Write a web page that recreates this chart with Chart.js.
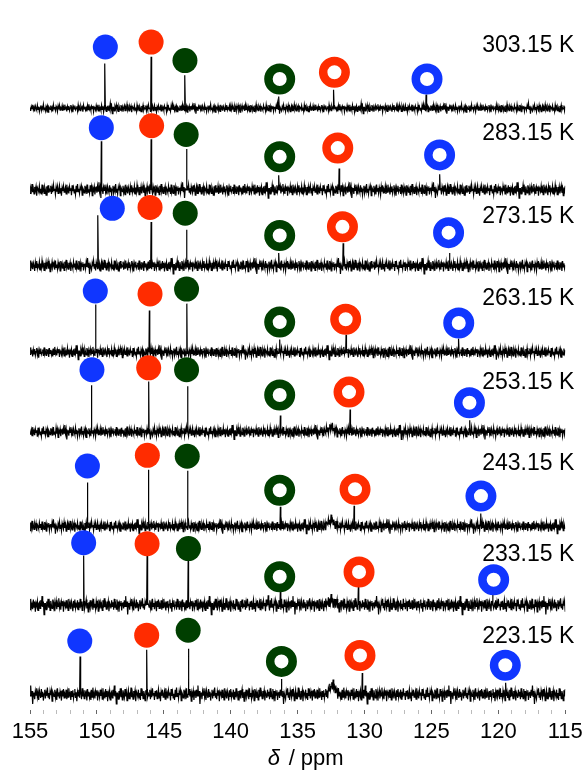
<!DOCTYPE html>
<html>
<head>
<meta charset="utf-8">
<script src="https://cdn.jsdelivr.net/npm/chart.js@4.4.1/dist/chart.umd.min.js"></script>
<style>
  html, body { margin: 0; padding: 0; background: #fff; }
  #wrap { width: 585px; height: 772px; position: relative; }
</style>
</head>
<body>
<div id="wrap"><canvas id="nmr"></canvas></div>
<script>
// temperaturas, de cima para baixo
const temps = ['303.15 K', '283.15 K', '273.15 K', '263.15 K', '253.15 K', '243.15 K', '233.15 K', '223.15 K'];
// deslocamento vertical de cada espectro
const baselines = [619, 535, 457, 368, 286, 189, 108, 16];
const noiseAmp = [4, 6, 6, 5.5, 5.5, 5.5, 7, 7];
const labelLift = [64, 58, 50, 55, 51, 64, 52, 59];

// picos: [ppm, altura, meia-largura]
const peaks303 = [[149.40, 46, 0.03], [145.95, 53, 0.03], [143.42, 34, 0.03], [136.40, 12, 0.03], [132.30, 19, 0.03], [125.40, 14, 0.03]];
const peaks283 = [[149.67, 50, 0.03], [145.95, 52, 0.03], [143.30, 42, 0.03], [136.40, 15, 0.03], [131.90, 22, 0.03], [124.37, 16, 0.03]];
const peaks273 = [[149.92, 52, 0.03], [145.95, 45, 0.03], [143.30, 37, 0.03], [136.40, 13, 0.03], [131.60, 23, 0.03], [123.65, 13, 0.03]];
const peaks263 = [[150.10, 49, 0.03], [146.08, 43, 0.03], [143.28, 50, 0.03], [136.34, 13, 0.03], [131.38, 18, 0.03], [122.96, 14, 0.03]];
const peaks253 = [[150.41, 48, 0.03], [146.13, 52, 0.03], [143.23, 47, 0.03], [136.29, 17, 0.03], [131.08, 23, 0.03], [122.14, 12, 0.03]];
const peaks243 = [[150.71, 45, 0.03], [146.15, 58, 0.03], [143.23, 57, 0.03], [136.29, 20, 0.03], [130.78, 21, 0.03], [121.30, 13, 0.03]];
const peaks233 = [[150.99, 51, 0.03], [146.25, 51, 0.03], [143.18, 47, 0.03], [137.20, 10, 0.03], [136.29, 16, 0.03], [130.46, 20, 0.03], [120.43, 12, 0.03]];
const peaks223 = [[151.26, 39, 0.03], [146.28, 46, 0.03], [143.16, 47, 0.03], [136.21, 16, 0.03], [130.17, 22, 0.03], [119.44, 12, 0.03]];
const peakSets = [peaks303, peaks283, peaks273, peaks263, peaks253, peaks243, peaks233, peaks223];

// sinais largos (~132.5 ppm): [ppm, altura, meia-largura] por espectro
const humps = [[], [], [], [], [[132.5, 5, 0.5]], [[132.5, 7, 0.5]], [[132.5, 5, 0.5]], [[132.4, 10, 0.5]]];

// marcadores: [ppm, altura acima da linha de base]
const blueFilled  = [[149.37, 63], [149.67, 64], [148.85, 59], [150.12, 63], [150.37, 64], [150.71, 62], [150.99, 64], [151.28, 55]];
const redFilled   = [[145.95, 68], [145.91, 66], [146.03, 60], [146.03, 60], [146.13, 66], [146.23, 73], [146.25, 63], [146.28, 61]];
const greenFilled = [[143.42, 49], [143.33, 57], [143.40, 54], [143.30, 65], [143.30, 64], [143.25, 72], [143.16, 58], [143.18, 66]];
const greenRing   = [[136.34, 30], [136.34, 34], [136.34, 31], [136.34, 31], [136.34, 38], [136.34, 37], [136.34, 29], [136.21, 34]];
const redRing     = [[132.25, 37], [132.00, 43], [131.65, 40], [131.41, 34], [131.16, 41], [130.71, 38], [130.41, 34], [130.34, 40]];
const blueRing    = [[125.33, 30], [124.39, 36], [123.72, 34], [122.96, 30], [122.16, 30], [121.30, 31], [120.35, 26], [119.48, 30]];

// ruído da linha de base (valores normalizados)
const noisePattern = [
  0.2, -0.7, 0.5, -0.1, 0.9, -0.4, 0.3, -0.8, 0.6, 0.0,
  -0.5, 0.8, -0.3, 0.4, -0.9, 0.1, 0.7, -0.6, 0.3, -0.2,
  1.0, -0.4, 0.2, -0.7, 0.5, -0.1, 0.6, -1.0, 0.4, 0.1,
  -0.3, 0.7, -0.5, 0.2, -0.8, 0.9, -0.2, 0.3, -0.6, 0.5,
  0.0, -0.9, 0.6, -0.3, 0.8, -0.5, 0.1, -0.2, 0.7, -0.7,
  0.4, -0.4, 0.9, -0.1, 0.2, -0.8, 0.5, -0.3, 0.6, -0.6,
  0.1, 0.8, -0.5, 0.3, -1.0, 0.4, -0.2, 0.7, -0.4, 0.0,
  0.5, -0.7, 0.9, -0.3, 0.2, -0.6, 0.6, -0.1, 0.3, -0.9,
  0.8, -0.2, 0.4, -0.5, 0.1, -0.8, 0.7, -0.4, 1.0, -0.3,
  0.2, -0.6, 0.5, -0.1, 0.6, -0.9, 0.3, 0.0, -0.5, 0.7,
  -0.2, 0.4, -0.7, 0.9, -0.4, 0.1, -0.6, 0.8, -0.3, 0.5,
  -1.0, 0.3, -0.1, 0.6, -0.8, 0.2, 0.4, -0.5, 0.7, -0.2,
  1.3, -0.3, 0.5, -1.4, 0.2
];

const BLUE = '#1036ff';
const RED = '#ff2c00';
const GREEN = '#003f00';
const FONT = '"Liberation Sans", Arial, sans-serif';

function humpAt(i, ppm) {
  let add = 0;
  humps[i].forEach(([c, h, w]) => {
    const d = Math.abs(ppm - c);
    if (d < w) add += h * (1 - d / w);
  });
  return add;
}

function buildSpectrum(i) {
  const base = baselines[i], amp = noiseAmp[i], pk = peakSets[i];
  const pts = [];
  for (let k = 0; k <= 800; k++) {
    const ppm = 155 - k * 0.05;
    if (pk.some(p => Math.abs(ppm - p[0]) <= p[2])) continue;
    const n = noisePattern[(k + i * 17) % noisePattern.length];
    pts.push({ x: ppm, y: base + amp * n + humpAt(i, ppm) });
  }
  pk.forEach(([c, h, w]) => {
    pts.push({ x: c + w, y: base }, { x: c, y: base + h }, { x: c - w, y: base });
  });
  return pts.sort((a, b) => b.x - a.x);
}

function markerData(list) {
  return list.map(([ppm, lift], i) => ({ x: ppm, y: baselines[i] + lift }));
}

function filledSet(list, color) {
  return {
    type: 'scatter', data: markerData(list), order: 0,
    pointStyle: 'circle', pointRadius: 12.5, pointBorderWidth: 0,
    pointBackgroundColor: color, pointBorderColor: color
  };
}

function ringSet(list, color) {
  return {
    type: 'scatter', data: markerData(list), order: 0,
    pointStyle: 'circle', pointRadius: 11.25, pointBorderWidth: 8.5,
    pointBackgroundColor: '#fff', pointBorderColor: color
  };
}

const spectra = temps.map((t, i) => ({
  type: 'line', label: t, data: buildSpectrum(i), order: 1,
  borderColor: '#000', borderWidth: 1.2, pointRadius: 0, tension: 0, fill: false
}));

// textos: temperaturas e título do eixo
const textPlugin = {
  id: 'nmrText',
  afterDraw(chart) {
    const { ctx, chartArea, scales: { y } } = chart;
    ctx.save();
    ctx.fillStyle = '#000';
    ctx.font = '23px ' + FONT;
    ctx.textAlign = 'right';
    ctx.textBaseline = 'middle';
    temps.forEach((t, i) => {
      ctx.fillText(t, chartArea.right + 9, y.getPixelForValue(baselines[i] + labelLift[i]));
    });
    const left = (chartArea.left + chartArea.right) / 2 - 30;
    ctx.textAlign = 'left';
    ctx.textBaseline = 'alphabetic';
    ctx.font = 'italic 22px ' + FONT;
    ctx.fillText('δ', left, 765);
    ctx.font = '22px ' + FONT;
    ctx.fillText('/ ppm', left + 21, 765);
    ctx.restore();
  }
};

new Chart(document.getElementById('nmr'), {
  data: {
    datasets: [
      filledSet(blueFilled, BLUE), filledSet(redFilled, RED), filledSet(greenFilled, GREEN),
      ringSet(greenRing, GREEN), ringSet(redRing, RED), ringSet(blueRing, BLUE),
      ...spectra
    ]
  },
  options: {
    responsive: true,
    maintainAspectRatio: false,
    animation: false,
    layout: { padding: { left: 30, right: 17, top: 0, bottom: 0 } },
    plugins: { legend: { display: false }, tooltip: { enabled: false } },
    scales: {
      x: {
        type: 'linear', reverse: true, min: 115, max: 155,
        afterFit(scale) {
          scale.height = 62;
          scale.paddingLeft = 0;
          scale.paddingRight = 0;
        },
        border: { display: false },
        grid: {
          drawOnChartArea: false, drawTicks: true, tickLength: 4,
          color: c => (c.tick && c.tick.value % 5 === 0) ? '#666' : '#bbb'
        },
        ticks: {
          stepSize: 1, autoSkip: false, maxRotation: 0, padding: 5,
          color: '#000', font: { size: 22, family: FONT },
          callback: v => (v % 5 === 0 ? v : '')
        }
      },
      y: { type: 'linear', min: 0, max: 710, display: false }
    }
  },
  plugins: [textPlugin]
});
</script>
</body>
</html>
